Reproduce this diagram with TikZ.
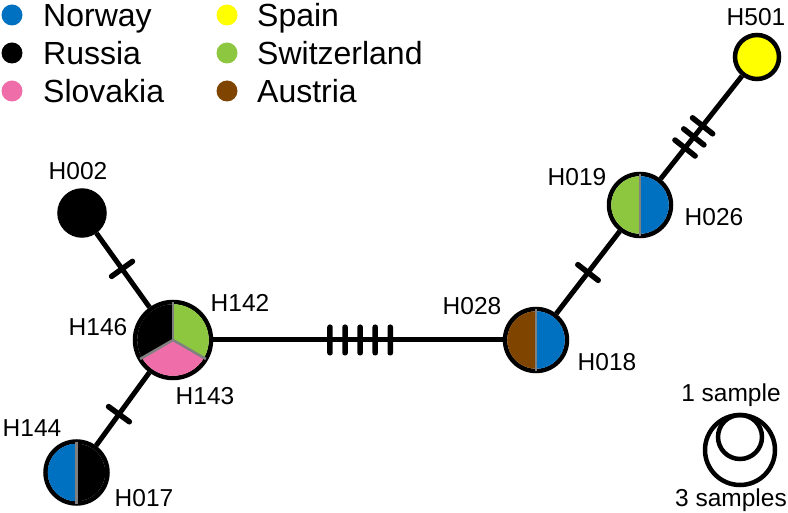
\documentclass[tikz,border=0pt]{standalone}
\usepackage{fontspec}
\setmainfont{Liberation Sans}
\usetikzlibrary{calc}
\definecolor{cnor}{HTML}{0070C0}
\definecolor{cslo}{HTML}{EF6EAA}
\definecolor{cspa}{HTML}{FFFF00}
\definecolor{cswi}{HTML}{8DC63F}
\definecolor{caus}{HTML}{7F4500}
\definecolor{cdiv}{HTML}{808080}
\begin{document}
\begin{tikzpicture}[x=1pt,y=1pt,
  hap/.style={circle, draw=black, line width=4.5pt, inner sep=0pt, fill=white},
  edge/.style={line width=5pt},
  tickmark/.style={fill=black, inner sep=0pt, minimum width=5.5pt, minimum height=31pt, rounded corners=2.5pt, sloped},
  divider/.style={draw=cdiv, line width=2.5pt},
  lab/.style={font=\fontsize{24.5}{28}\selectfont, inner sep=0pt},
  leg/.style={font=\fontsize{32}{36}\selectfont, inner sep=0pt, anchor=base west},
  dot/.style={circle, inner sep=0pt, minimum size=21pt},
  scalecirc/.style={circle, draw=black, line width=4.5pt, inner sep=0pt}
]
\useasboundingbox (0,0) rectangle (788,-513);

% legend
\node[dot, fill=cnor] (dnor) at (12,-15) {};
\node[dot, fill=black] (drus) at (12,-53) {};
\node[dot, fill=cslo] (dslo) at (12,-91) {};
\node[dot, fill=cspa] (dspa) at (227,-15) {};
\node[dot, fill=cswi] (dswi) at (227,-53) {};
\node[dot, fill=caus] (daus) at (227,-91) {};
\node[leg] (tnor) at (43,-26.5) {Norway};
\node[leg] (trus) at (43,-64.5) {Russia};
\node[leg] (tslo) at (43,-102.5) {Slovakia};
\node[leg] (tspa) at (257,-26.5) {Spain};
\node[leg] (tswi) at (257,-64.5) {Switzerland};
\node[leg] (taus) at (257,-102.5) {Austria};

% haplotype nodes
\node[hap, minimum size=44pt, fill=cspa] (h501) at (757,-57) {};
\node[hap, minimum size=62pt] (h19) at (640,-205) {};
\node[hap, minimum size=62pt] (h28) at (536,-340) {};
\node[hap, minimum size=76pt] (cen) at (173,-340) {};
\node[hap, minimum size=45pt, fill=black] (h002) at (82,-213) {};
\node[hap, minimum size=62pt] (h144) at (76.5,-472.5) {};

% edges
\draw[edge] (h002) -- (cen);
\draw[edge] (cen) -- (h144);
\draw[edge] (cen) -- (h28);
\draw[edge] (h28) -- (h19);
\draw[edge] (h19) -- (h501);

% mutation ticks
\path (h002.center) -- (cen.center) node[tickmark, pos=0.44] (k1) {};
\path (cen.center) -- (h144.center) node[tickmark, pos=0.56] (k2) {};
\path (cen.center) -- (h28.center)
  node[tickmark, pos=0.4325] (k3) {}
  node[tickmark, pos=0.474] (k4) {}
  node[tickmark, pos=0.5155] (k5) {}
  node[tickmark, pos=0.557] (k6) {}
  node[tickmark, pos=0.5985] (k7) {};
\path (h28.center) -- (h19.center) node[tickmark, pos=0.5] (k8) {};
\path (h19.center) -- (h501.center)
  node[tickmark, pos=0.385] (k9) {}
  node[tickmark, pos=0.46] (k10) {}
  node[tickmark, pos=0.535] (k11) {};

% pies: H019/H026
\fill[cswi] (h19.center) -- ++(90:28.8) arc[start angle=90, end angle=270, radius=28.8] -- cycle;
\fill[cnor] (h19.center) -- ++(-90:28.8) arc[start angle=-90, end angle=90, radius=28.8] -- cycle;
\draw[divider] ($(h19.center)+(0,31)$) -- ($(h19.center)+(0,-31)$);
% H028/H018
\fill[caus] (h28.center) -- ++(90:28.8) arc[start angle=90, end angle=270, radius=28.8] -- cycle;
\fill[cnor] (h28.center) -- ++(-90:28.8) arc[start angle=-90, end angle=90, radius=28.8] -- cycle;
\draw[divider] ($(h28.center)+(0,31)$) -- ($(h28.center)+(0,-31)$);
% H144/H017
\fill[cnor] (h144.center) -- ++(90:28.8) arc[start angle=90, end angle=270, radius=28.8] -- cycle;
\fill[black] (h144.center) -- ++(-90:28.8) arc[start angle=-90, end angle=90, radius=28.8] -- cycle;
\draw[divider] ($(h144.center)+(0,31)$) -- ($(h144.center)+(0,-31)$);
% central H146/H142/H143
\fill[black] (cen.center) -- ++(90:35.8) arc[start angle=90, end angle=210, radius=35.8] -- cycle;
\fill[cslo] (cen.center) -- ++(210:35.8) arc[start angle=210, end angle=330, radius=35.8] -- cycle;
\fill[cswi] (cen.center) -- ++(-30:35.8) arc[start angle=-30, end angle=90, radius=35.8] -- cycle;
\draw[divider] (cen.center) -- ++(90:38);
\draw[divider] (cen.center) -- ++(210:38);
\draw[divider] (cen.center) -- ++(330:38);

% labels
\node[lab] (l501) at (756,-17) {H501};
\node[lab] (l019) at (577,-177) {H019};
\node[lab] (l026) at (714,-217) {H026};
\node[lab] (l028) at (472,-306) {H028};
\node[lab] (l018) at (607,-362) {H018};
\node[lab] (l002) at (78,-171) {H002};
\node[lab] (l142) at (240,-303) {H142};
\node[lab] (l146) at (98,-327) {H146};
\node[lab] (l143) at (205,-396) {H143};
\node[lab] (l144) at (32,-428) {H144};
\node[lab] (l017) at (144,-498) {H017};

% size scale
\node[scalecirc, minimum size=70pt] (s3) at (740,-450) {};
\node[scalecirc, minimum size=44pt] (s1) at (740,-437) {};
\node[lab, anchor=base] (ts1) at (731,-401) {1 sample};
\node[lab, anchor=base] (ts3) at (731,-506) {3 samples};
\end{tikzpicture}
\end{document}
